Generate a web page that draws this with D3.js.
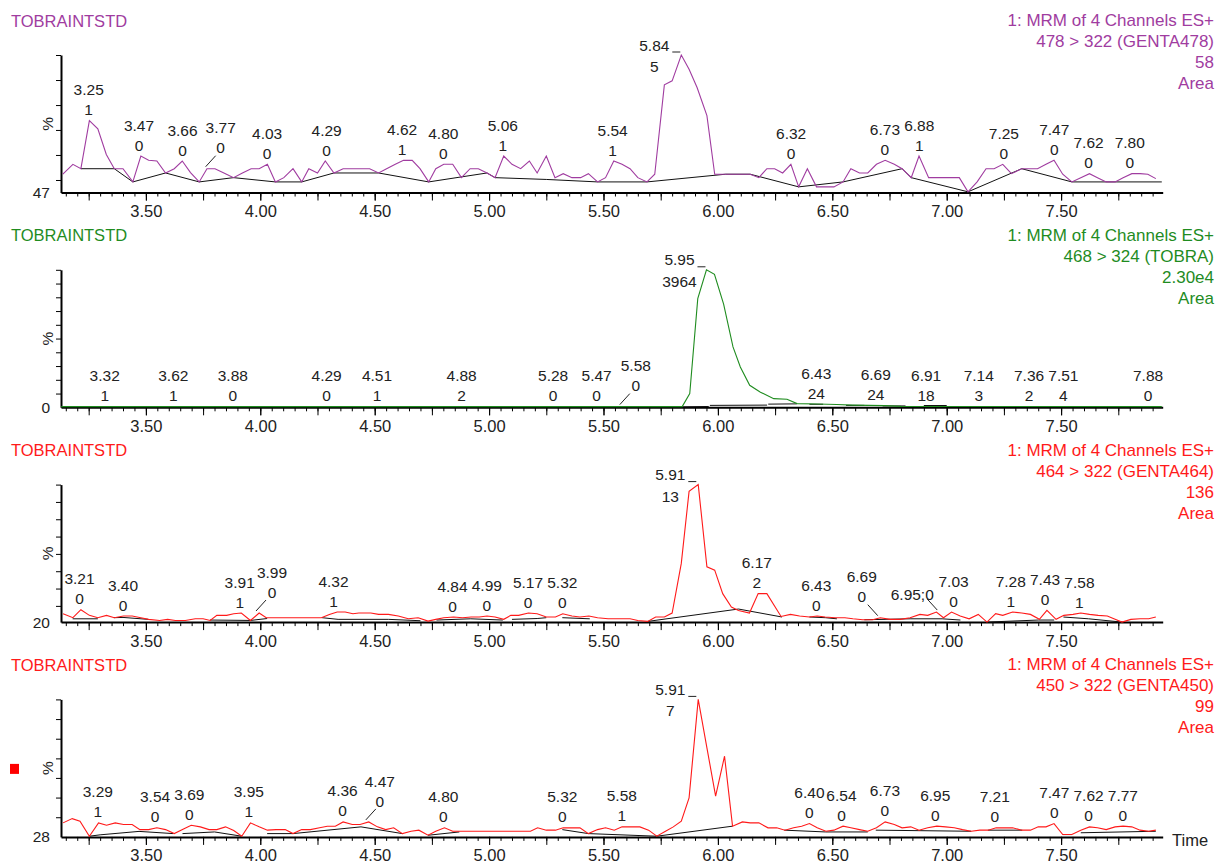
<!doctype html>
<html lang="en">
  <head>
    <meta charset="UTF-8" />
    <title>TOBRAINTSTD MRM chromatograms</title>
    <script src="https://cdn.jsdelivr.net/npm/d3@7"></script>
    <style>
      body { margin: 0; background: #fff; }
      svg text { font-family: "Liberation Sans", Arial, sans-serif; }
    </style>
  </head>
  <body>
    <svg id="chart" width="1218" height="865"></svg>
    <script>
      // ---- data: [time (min), % of channel range] ----
      const timeTickLabels = ["3.50", "4.00", "4.50", "5.00", "5.50", "6.00", "6.50", "7.00", "7.50"];

      const genta478Header = ["1: MRM of 4 Channels ES+", "478 > 322 (GENTA478)", "58", "Area"];
      const genta478Offset = "47";
      const genta478Ticks = [100, 81.8, 63.6, 45.5, 27.3, 9.1];
      const genta478Trace = [
        [3.137,13.3],[3.181,20.5],[3.216,17.3],[3.253,52.3],[3.29,46.3],[3.327,27.7],[3.362,17.3],[3.40,17.3],
        [3.443,7.7],[3.478,26.5],[3.512,23.4],[3.548,22.9],[3.586,14.2],[3.624,17.3],[3.659,22.9],[3.695,14.5],
        [3.733,7.7],[3.767,17.3],[3.802,17.3],[3.841,14.2],[3.883,10.8],[3.922,14.2],[3.96,17.3],[3.995,17.3],
        [4.031,20.5],[4.066,7.7],[4.103,10.8],[4.143,17.3],[4.181,7.7],[4.212,17.3],[4.25,14.2],[4.284,22.9],
        [4.322,14.2],[4.362,17.3],[4.397,17.3],[4.44,17.3],[4.478,17.3],[4.517,14.2],[4.552,17.3],[4.59,20.5],
        [4.626,23.4],[4.664,23.4],[4.698,17.3],[4.736,7.7],[4.767,17.3],[4.802,20.5],[4.841,20.5],[4.879,10.8],
        [4.917,17.3],[4.953,17.3],[4.991,14.2],[5.026,10.8],[5.064,26.5],[5.10,20.5],[5.138,17.3],[5.176,22.9],
        [5.21,14.2],[5.25,26.5],[5.288,10.8],[5.324,13.7],[5.362,10.8],[5.40,10.8],[5.434,13.7],[5.474,7.7],
        [5.509,10.8],[5.545,22.9],[5.581,20.5],[5.616,17.3],[5.65,10.8],[5.69,7.7],[5.724,13.3],[5.766,78.3],
        [5.80,81.2],[5.84,100],[5.874,89.6],[5.909,76.4],[5.952,55.9],[5.986,13.3],[6.034,13.3],[6.072,13.3],
        [6.141,13.3],[6.179,10.8],[6.214,17.3],[6.248,17.3],[6.283,14.2],[6.319,20.5],[6.353,4.1],[6.391,17.3],
        [6.431,4.1],[6.469,4.1],[6.507,4.1],[6.547,7.7],[6.581,17.3],[6.619,14.2],[6.655,14.2],[6.693,20.5],
        [6.731,23.4],[6.771,20.5],[6.805,17.3],[6.845,10.8],[6.879,26.5],[6.921,10.8],[6.96,10.8],[7.0,10.8],
        [7.055,10.8],[7.093,0.5],[7.133,7.7],[7.172,17.3],[7.207,17.3],[7.245,20.5],[7.283,13.7],[7.328,17.3],
        [7.397,17.3],[7.434,20.5],[7.469,23.4],[7.507,13.3],[7.547,7.7],[7.586,10.8],[7.624,13.7],[7.659,10.8],
        [7.697,7.7],[7.736,7.7],[7.771,10.8],[7.809,13.7],[7.845,13.7],[7.879,13.3],[7.914,10.1]
      ];
      const genta478Base = [
        [[3.216,17.3],[3.362,17.3],[3.443,7.7],[3.586,14.2],[3.733,7.7],[3.883,10.8],[4.066,7.7],[4.181,7.7],
         [4.322,14.2],[4.517,14.2],[4.736,7.7],[4.991,14.2],[5.026,10.8],[5.25,9.5],[5.474,7.7],[5.69,7.7],
         [6.034,13.3],[6.141,13.3],[6.353,4.1],[6.547,7.7],[6.805,17.3],[6.845,10.8],[7.093,0.5],[7.328,17.3],
         [7.547,7.7],[7.94,7.7]]
      ];
      const genta478Peaks = [
        ["3.25","1"],["3.47","0"],["3.66","0"],["3.77","0"],["4.03","0"],["4.29","0"],["4.62","1"],["4.80","0"],
        ["5.06","1"],["5.54","1"],["5.84","5"],["6.32","0"],["6.73","0"],["6.88","1"],["7.25","0"],["7.47","0"],
        ["7.62","0"],["7.80","0"]
      ];

      const tobraHeader = ["1: MRM of 4 Channels ES+", "468 > 324 (TOBRA)", "2.30e4", "Area"];
      const tobraOffset = "0";
      const tobraTicks = [100, 90, 80, 70, 60, 50, 40, 30, 20, 10];
      const tobraTrace = [
        [3.13,0.5],[5.844,0.5],[5.877,10],[5.912,79],[5.95,100],[5.985,96.7],[6.025,75],[6.066,43.9],
        [6.098,29.3],[6.139,16],[6.186,11],[6.244,6.3],[6.302,5.8],[6.346,2.7],[6.434,2.4],[6.52,2.0],
        [6.59,1.6],[6.728,1.2],[6.80,0.7],[7.94,0.5]
      ];
      const tobraBase = [
        [[5.844,0.4],[5.96,0.6]], [[5.965,1.4],[6.215,1.6]], [[6.22,2.3],[6.345,2.5]],
        [[6.40,2.2],[6.46,2.2]], [[6.56,1.4],[6.64,1.4]], [[6.72,1.0],[6.82,1.0]], [[6.90,1.3],[7.0,1.3]]
      ];
      const tobraPeaks = [
        ["3.32","1"],["3.62","1"],["3.88","0"],["4.29","0"],["4.51","1"],["4.88","2"],["5.28","0"],["5.47","0"],
        ["5.58","0"],["5.95","3964"],["6.43","24"],["6.69","24"],["6.91","18"],["7.14","3"],["7.36","2"],
        ["7.51","4"],["7.88","0"]
      ];

      const genta464Header = ["1: MRM of 4 Channels ES+", "464 > 322 (GENTA464)", "136", "Area"];
      const genta464Offset = "20";
      const genta464Ticks = [100, 87.4, 74.8, 62.2, 49.6, 37, 24.4, 11.8];
      const genta464Trace = [
        [3.138,6.1],[3.181,3.2],[3.216,9.0],[3.253,4.9],[3.29,3.2],[3.328,4.9],[3.362,3.2],[3.402,4.4],
        [3.44,4.4],[3.478,3.2],[3.512,2.0],[3.56,1.2],[3.595,2.0],[3.629,1.2],[3.672,1.2],[3.716,2.4],
        [3.75,2.4],[3.781,1.2],[3.81,4.9],[3.853,4.9],[3.884,6.1],[3.917,6.6],[3.957,1.2],[3.995,6.6],
        [4.026,3.2],[4.078,3.2],[4.267,3.2],[4.302,5.6],[4.336,7.3],[4.371,7.3],[4.405,6.1],[4.431,6.6],
        [4.483,6.6],[4.517,5.6],[4.56,5.6],[4.603,4.4],[4.647,2.4],[4.69,3.2],[4.733,0.7],[4.767,2.0],
        [4.802,3.2],[4.845,3.7],[4.884,3.2],[4.922,3.7],[4.957,3.7],[4.991,4.4],[5.026,3.7],[5.064,2.0],
        [5.095,4.9],[5.129,4.9],[5.172,6.6],[5.21,6.1],[5.25,3.7],[5.29,3.7],[5.322,6.1],[5.362,4.4],
        [5.397,3.7],[5.436,4.4],[5.474,3.2],[5.52,2.4],[5.616,2.4],[5.65,1.2],[5.693,0.5],[5.728,3.7],
        [5.766,3.7],[5.80,6.6],[5.84,42.7],[5.874,95.1],[5.914,100],[5.952,40.2],[5.986,37.8],[6.021,20.7],
        [6.059,11.0],[6.09,8.5],[6.138,6.6],[6.176,20.7],[6.214,20.7],[6.276,4.1],[6.317,5.6],[6.357,4.4],
        [6.40,3.7],[6.434,4.4],[6.469,3.7],[6.512,3.2],[6.555,3.2],[6.59,2.4],[6.633,1.7],[6.676,1.7],
        [6.71,3.2],[6.753,2.0],[6.797,2.0],[6.84,3.2],[6.883,5.6],[6.917,4.9],[6.955,7.3],[6.986,3.2],
        [7.021,7.3],[7.059,4.4],[7.098,2.4],[7.138,5.6],[7.176,0],[7.214,6.1],[7.245,4.9],[7.288,7.3],
        [7.328,6.6],[7.366,5.6],[7.405,2.0],[7.438,8.5],[7.478,2.0],[7.512,4.9],[7.552,5.6],[7.586,6.6],
        [7.624,5.6],[7.662,4.9],[7.702,4.4],[7.736,2.0],[7.766,0],[7.805,2.0],[7.845,2.4],[7.883,2.4],[7.914,3.7]
      ];
      const genta464Base = [
        [[3.18,2.4],[3.29,2.4]], [[3.36,3.2],[3.40,3.4],[3.51,2.0]], [[3.78,1.5],[3.957,1.2],[4.03,2.6]],
        [[4.27,3.2],[4.34,2.0],[4.56,2.0],[4.70,1.0]], [[4.77,1.5],[4.92,2.4],[5.06,1.5]],
        [[5.10,2.0],[5.21,2.6],[5.25,3.2]], [[5.32,3.2],[5.44,2.4]],
        [[5.693,0.5],[6.09,9.5],[6.28,3.7]], [[6.40,3.7],[6.47,3.2],[6.52,2.4]],
        [[6.64,1.7],[6.84,2.4],[6.98,2.4],[7.06,1.5]], [[7.176,0],[7.40,1.5],[7.47,1.5]],
        [[7.51,3.7],[7.62,2.4],[7.766,0]]
      ];
      const genta464Peaks = [
        ["3.21","0"],["3.40","0"],["3.91","1"],["3.99","0"],["4.32","1"],["4.84","0"],["4.99","0"],["5.17","0"],
        ["5.32","0"],["5.91","13"],["6.17","2"],["6.43","0"],["6.69","0"],["6.95","0"],["7.03","0"],["7.28","1"],
        ["7.43","0"],["7.58","1"]
      ];

      const genta450Header = ["1: MRM of 4 Channels ES+", "450 > 322 (GENTA450)", "99", "Area"];
      const genta450Offset = "28";
      const genta450Ticks = [100, 85.7, 71.4, 57.1, 42.9, 28.6, 14.3];
      const genta450Trace = [
        [3.138,10.2],[3.178,13.3],[3.212,11.4],[3.253,0.5],[3.293,10.2],[3.328,8.5],[3.366,10.2],[3.402,9.0],
        [3.44,9.0],[3.474,5.3],[3.512,5.3],[3.548,6.6],[3.586,5.3],[3.624,2.4],[3.66,5.3],[3.698,8.5],
        [3.738,7.3],[3.776,5.3],[3.81,5.3],[3.848,7.3],[3.884,4.6],[3.919,0.5],[3.957,10.2],[3.995,7.3],
        [4.031,4.9],[4.069,5.3],[4.109,5.3],[4.143,2.4],[4.181,5.3],[4.219,5.3],[4.259,6.6],[4.293,7.8],
        [4.328,7.8],[4.362,10.9],[4.402,9.0],[4.436,9.0],[4.474,10.9],[4.512,7.3],[4.548,5.3],[4.583,6.6],
        [4.621,2.4],[4.659,4.1],[4.693,4.9],[4.733,1.2],[4.767,4.1],[4.805,6.6],[4.841,4.1],[4.879,4.1],
        [5.181,4.1],[5.212,6.6],[5.25,4.9],[5.29,4.9],[5.324,6.6],[5.397,6.6],[5.434,2.4],[5.474,5.3],
        [5.509,6.6],[5.547,4.9],[5.581,7.3],[5.659,7.3],[5.697,4.9],[5.733,0.5],[5.771,4.1],[5.805,7.3],
        [5.84,11.4],[5.874,28.4],[5.914,100],[5.952,64.8],[5.99,29.6],[6.029,58.7],[6.064,7.8],[6.107,10.9],
        [6.141,10.2],[6.179,10.2],[6.219,6.6],[6.257,6.6],[6.293,4.9],[6.331,6.6],[6.366,7.8],[6.40,9.7],
        [6.434,6.6],[6.472,4.1],[6.507,4.9],[6.547,7.8],[6.581,6.6],[6.619,5.3],[6.655,4.1],[6.693,6.6],
        [6.731,10.9],[6.771,9.0],[6.805,6.6],[6.843,7.3],[6.879,4.9],[6.917,6.6],[6.957,7.8],[6.995,7.3],
        [7.033,6.6],[7.069,5.3],[7.107,4.1],[7.145,4.9],[7.181,4.9],[7.216,6.6],[7.253,6.6],[7.288,6.6],
        [7.328,4.9],[7.366,4.9],[7.40,7.3],[7.434,7.3],[7.469,9.7],[7.507,1.7],[7.547,1.7],[7.586,4.9],
        [7.624,7.3],[7.659,6.6],[7.697,5.3],[7.736,7.3],[7.771,7.8],[7.809,7.3],[7.845,4.9],[7.883,4.1],[7.914,4.9]
      ];
      const genta450Base = [
        [[3.253,0.5],[3.30,1.5],[3.47,4.0],[3.62,2.4]], [[3.66,2.4],[3.80,3.6],[3.919,0.5]],
        [[4.03,2.4],[4.143,2.4],[4.44,7.3],[4.621,2.4]], [[4.733,1.2],[4.87,3.6]], [[5.32,5.3],[5.434,2.4]],
        [[5.434,2.4],[5.733,0.5],[6.064,7.8]], [[6.29,4.9],[6.47,3.6],[6.655,3.6]], [[6.69,4.9],[7.107,4.1]],
        [[7.18,4.9],[7.33,4.9]], [[7.507,1.7],[7.547,1.7]], [[7.586,3.0],[7.914,4.1]]
      ];
      const genta450Peaks = [
        ["3.29","1"],["3.54","0"],["3.69","0"],["3.95","1"],["4.36","0"],["4.47","0"],["4.80","0"],["5.32","0"],
        ["5.58","1"],["5.91","7"],["6.40","0"],["6.54","0"],["6.73","0"],["6.95","0"],["7.21","0"],["7.47","0"],
        ["7.62","0"],["7.77","0"]
      ];

      // labels that the software pushed aside with a leader line
      const labelNudges = {
        "0:3.77": { dx: 13, dy: -10, s: 1 },
        "1:5.58": { dx: 14, dy: -10, s: 1 },
        "2:3.99": { dx: 14, dy: -10, s: 1 },
        "2:6.69": { dx: -14, dy: -10, s: -1 },
        "2:6.95": { dx: -23, dy: -7, s: -1, inline: true },
        "3:4.47": { dx: 12, dy: -9, s: 1 }
      };

      const panels = [
        { color: "#a03ca0", header: genta478Header, offset: genta478Offset, ticks: genta478Ticks, trace: genta478Trace, base: genta478Base, peaks: genta478Peaks },
        { color: "#1f8c1f", header: tobraHeader, offset: tobraOffset, ticks: tobraTicks, trace: tobraTrace, base: tobraBase, peaks: tobraPeaks },
        { color: "#ff1a1a", header: genta464Header, offset: genta464Offset, ticks: genta464Ticks, trace: genta464Trace, base: genta464Base, peaks: genta464Peaks },
        { color: "#ff1a1a", header: genta450Header, offset: genta450Offset, ticks: genta450Ticks, trace: genta450Trace, base: genta450Base, peaks: genta450Peaks }
      ];

      // ---- layout ----
      const panelBase = [192.5, 407.3, 622.1, 836.9];
      const axisH = 137.5;
      const labelColor = "#222";

      const svg = d3.select("#chart");
      const x = d3.scaleLinear().domain([3.129, 7.944]).range([61, 1162.7]);

      const minorTicks = d3.range(3.15, 7.94, 0.05).map(v => +v.toFixed(2));
      const midTicks = d3.range(3.25, 7.94, 0.25).map(v => +v.toFixed(2));
      const majorTicks = timeTickLabels.map(Number);

      // value of a trace at time t (max of nearby scans, else linear)
      function apexAt(trace, t) {
        const near = trace.filter(d => Math.abs(d[0] - t) <= 0.025);
        if (near.length) return d3.max(near, d => d[1]);
        const i = d3.bisector(d => d[0]).left(trace, t);
        const a = trace[Math.max(0, i - 1)], b = trace[Math.min(trace.length - 1, i)];
        if (a === b) return a[1];
        return a[1] + (b[1] - a[1]) * (t - a[0]) / (b[0] - a[0]);
      }

      panels.forEach((p, i) => {
        const base = panelBase[i];
        const y = d3.scaleLinear().domain([0, 100]).range([base, base - axisH]);
        const g = svg.append("g");

        // header texts
        g.append("text").attr("x", 11).attr("y", base - 172).attr("dominant-baseline", "central")
          .attr("font-size", 16.5).attr("fill", p.color).text("TOBRAINTSTD");
        p.header.forEach((s, k) => {
          g.append("text").attr("x", 1214).attr("y", base - 172 + k * 21)
            .attr("dominant-baseline", "central").attr("text-anchor", "end")
            .attr("font-size", 17).attr("fill", p.color).text(s);
        });

        // x axis: minor, quarter and labelled ticks
        const ax = g.append("g").attr("transform", `translate(0,${base})`);
        ax.append("g").call(d3.axisBottom(x).tickValues(minorTicks).tickSize(4).tickFormat("").tickSizeOuter(0))
          .call(s => s.select(".domain").remove());
        ax.append("g").call(d3.axisBottom(x).tickValues(midTicks).tickSize(8).tickFormat("").tickSizeOuter(0))
          .call(s => s.select(".domain").remove());
        ax.append("g").call(d3.axisBottom(x).tickValues(majorTicks).tickSize(8).tickSizeOuter(0)
            .tickFormat((d, k) => timeTickLabels[k]))
          .call(s => s.select(".domain").attr("stroke-width", 2))
          .call(s => s.selectAll("text").attr("y", 0).attr("dy", null).attr("transform", "translate(0,18.5)")
            .attr("dominant-baseline", "central").attr("font-size", 16.5).attr("fill", labelColor)
            .attr("font-family", null));
        ax.selectAll(".tick line").attr("stroke", "#000");

        // y axis
        g.append("g").attr("transform", "translate(61,0)")
          .call(d3.axisLeft(y).tickValues(p.ticks).tickSize(5).tickFormat("").tickSizeOuter(0))
          .call(s => s.select(".domain").attr("stroke-width", 2));

        g.append("text").attr("x", 50).attr("y", base).attr("text-anchor", "end")
          .attr("dominant-baseline", "central").attr("font-size", 15.5).attr("fill", labelColor).text(p.offset);
        g.append("text").attr("transform", `translate(47,${base - axisH / 2}) rotate(-90)`)
          .attr("text-anchor", "middle").attr("dominant-baseline", "central")
          .attr("font-size", 15.5).attr("fill", labelColor).text("%");

        // integration baselines and trace
        const line = d3.line().x(d => x(d[0])).y(d => y(d[1]));
        g.selectAll(".bl").data(p.base).join("path").attr("class", "bl")
          .attr("d", line).attr("fill", "none").attr("stroke", "#111").attr("stroke-width", 1);
        g.append("path").datum(p.trace).attr("d", line)
          .attr("fill", "none").attr("stroke", p.color).attr("stroke-width", 1.1);

        // peak labels
        const apexes = p.peaks.map(d => apexAt(p.trace, +d[0]));
        const top = d3.maxIndex(apexes);
        p.peaks.forEach((d, k) => {
          const px = x(+d[0]), py = y(apexes[k]);
          const lab = g.append("g").attr("fill", labelColor).attr("font-size", 15.5)
            .attr("text-anchor", "middle").attr("dominant-baseline", "central");
          if (k === top) {
            lab.append("text").attr("x", px - 27).attr("y", py - 10).text(d[0]);
            lab.append("text").attr("x", px - 27).attr("y", py + 11.5).text(d[1]);
            g.append("line").attr("x1", px - 9).attr("x2", px - 1).attr("y1", py - 3).attr("y2", py - 3)
              .attr("stroke", labelColor);
            return;
          }
          const n = labelNudges[`${i}:${d[0]}`] || { dx: 0, dy: 0 };
          if (n.inline) {
            lab.append("text").attr("x", px + n.dx).attr("y", py - 11 + n.dy).text(`${d[0]};${d[1]}`);
          } else {
            lab.append("text").attr("x", px + n.dx).attr("y", py - 31 + n.dy).text(d[0]);
            lab.append("text").attr("x", px + n.dx).attr("y", py - 11 + n.dy).text(d[1]);
          }
          if (n.s) {
            g.append("line").attr("x1", px - n.s * 2).attr("y1", py - 2)
              .attr("x2", px + n.s * 8).attr("y2", py - 13).attr("stroke", labelColor);
          }
        });

        if (i === panels.length - 1) {
          g.append("text").attr("x", 1172).attr("y", base + 3).attr("dominant-baseline", "central")
            .attr("font-size", 16.5).attr("fill", labelColor).text("Time");
          g.append("rect").attr("x", 10).attr("y", base - 73).attr("width", 9).attr("height", 10)
            .attr("fill", "#ff0000");
        }
      });
    </script>
  </body>
</html>
